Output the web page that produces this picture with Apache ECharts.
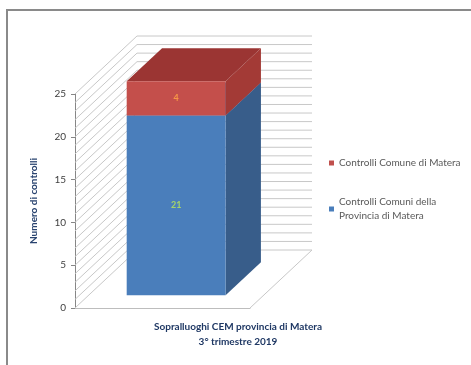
<!DOCTYPE html>
<html>
<head>
<meta charset="utf-8">
<script src="https://cdn.jsdelivr.net/npm/echarts@6/dist/echarts.min.js"></script>
<style>
html, body { margin: 0; padding: 0; background: #fff; }
#chart_1 { width: 471px; height: 365px; }
</style>
</head>
<body>
<div id="chart_1"></div>
<script>
// dati
var categories = ['Sopralluoghi CEM provincia di Matera\n3° trimestre 2019'];
var seriesNames = ['Controlli Comune di Matera', 'Controlli Comuni della\nProvincia di Matera'];
var comuneMatera = [4];
var comuniProvincia = [21];
var gridValues = [0, 1, 2, 3, 4, 5, 6, 7, 8, 9, 10, 11, 12, 13, 14, 15, 16, 17, 18, 19, 20, 21, 22, 23, 24, 25];

// finta prospettiva 3D (pixel)
var DX = 62, DY = -58;
var FRONT = 0.22, BACK = 0.79;
var BAR_RATIO = 0.565;

function renderWall(params, api) {
	var cs = params.coordSys;
	var y = api.coord([0, api.value(1)])[1];
	var x0 = cs.x, x1 = cs.x + cs.width;
	var children = [{
		type: 'polyline',
		shape: { points: [[x0, y], [x0 + DX, y + DY], [x1 + DX, y + DY]] },
		style: { stroke: '#c8c8c8', fill: null, lineWidth: 1 }
	}];
	if (params.dataIndex === 0) {
		children.push({
			type: 'polyline',
			shape: { points: [[x1, y], [x1 + DX, y + DY]] },
			style: { stroke: '#c8c8c8', fill: null, lineWidth: 1 }
		});
	}
	return { type: 'group', silent: true, children: children };
}

function makeBarRenderer(front, side, top, labelColor) {
	return function (params, api) {
		var base = api.value(1), tv = api.value(2);
		var c = api.coord([api.value(0), base]);
		var w = api.size([1, 0])[0] * BAR_RATIO;
		var xl = c[0] - w / 2 + DX * FRONT, xr = xl + w;
		var yb = c[1] + DY * FRONT;
		var yt = api.coord([api.value(0), tv])[1] + DY * FRONT;
		var dx = DX * (BACK - FRONT), dy = DY * (BACK - FRONT);
		return {
			type: 'group',
			children: [
				{ type: 'polygon', shape: { points: [[xr, yt], [xr + dx, yt + dy], [xr + dx, yb + dy], [xr, yb]] }, style: { fill: side } },
				{ type: 'polygon', shape: { points: [[xl, yt], [xl + dx, yt + dy], [xr + dx, yt + dy], [xr, yt]] }, style: { fill: top } },
				{ type: 'rect', shape: { x: xl, y: yt, width: w, height: yb - yt }, style: { fill: front } },
				{ type: 'text', style: { text: String(tv - base), x: (xl + xr) / 2, y: (yt + yb) / 2, align: 'center', verticalAlign: 'middle', fill: labelColor, font: 'bold 9px Lato' } }
			]
		};
	};
}

var blueData = [], redData = [], wallData = [];
for (var i = 0; i < categories.length; i++) {
	blueData.push([i, 0, comuniProvincia[i]]);
	redData.push([i, comuniProvincia[i], comuniProvincia[i] + comuneMatera[i]]);
}
for (var k = 0; k < gridValues.length; k++) {
	wallData.push([0, gridValues[k]]);
}

var option = {
	backgroundColor: '#fff',
	animation: false,
	grid: { left: 73, top: 94, width: 177, height: 214 },
	graphic: [{
		type: 'rect',
		shape: { x: 7, y: 10, width: 490, height: 380 },
		style: { fill: null, stroke: '#8a8a8a', lineWidth: 2 },
		silent: true
	}],
	legend: [{
		orient: 'vertical', left: 329, top: 156, padding: 0,
		icon: 'rect', itemWidth: 5, itemHeight: 5, itemGap: 4,
		textStyle: { fontFamily: 'Lato', fontSize: 10, color: '#595959', lineHeight: 14 },
		data: [seriesNames[0]]
	}, {
		orient: 'vertical', left: 329, top: 188, padding: 0,
		icon: 'rect', itemWidth: 5, itemHeight: 5, itemGap: 4,
		textStyle: { fontFamily: 'Lato', fontSize: 10, color: '#595959', lineHeight: 14, padding: [14, 0, 0, 0] },
		data: [seriesNames[1]]
	}],
	xAxis: {
		type: 'category',
		data: categories,
		axisLine: { show: true, lineStyle: { color: '#bdbdbd' } },
		axisTick: { show: false },
		axisLabel: {
			margin: 11, padding: [0, 0, 0, 151], lineHeight: 15,
			fontFamily: 'Lato', fontSize: 10, fontWeight: 'bold', color: '#1f3864'
		}
	},
	yAxis: {
		type: 'value', min: 0, max: 25, interval: 5,
		name: 'Numero di controlli', nameLocation: 'middle', nameGap: 36, nameRotate: 90,
		nameTextStyle: { fontFamily: 'Lato', fontSize: 10, fontWeight: 'bold', color: '#2a4470' },
		axisLine: { show: true, lineStyle: { color: '#868686' } },
		axisTick: { show: true, length: 4, lineStyle: { color: '#868686' } },
		axisLabel: { margin: 9, fontFamily: 'Lato', fontSize: 10, color: '#404040' },
		splitLine: { show: false }
	},
	series: [{
		name: 'walls', type: 'custom', z: 1,
		renderItem: renderWall, data: wallData, silent: true
	}, {
		name: seriesNames[1], type: 'custom', z: 2,
		itemStyle: { color: '#4a7ebb' },
		renderItem: makeBarRenderer('#4a7ebb', '#385d8a', '#4272aa', '#a5d46a'),
		data: blueData
	}, {
		name: seriesNames[0], type: 'custom', z: 3,
		itemStyle: { color: '#c0504d' },
		renderItem: makeBarRenderer('#c44f4b', '#a33a36', '#9b3533', '#f79646'),
		data: redData
	}]
};

var myChart = echarts.init(document.getElementById('chart_1'));
myChart.setOption(option);
</script>
</body>
</html>
